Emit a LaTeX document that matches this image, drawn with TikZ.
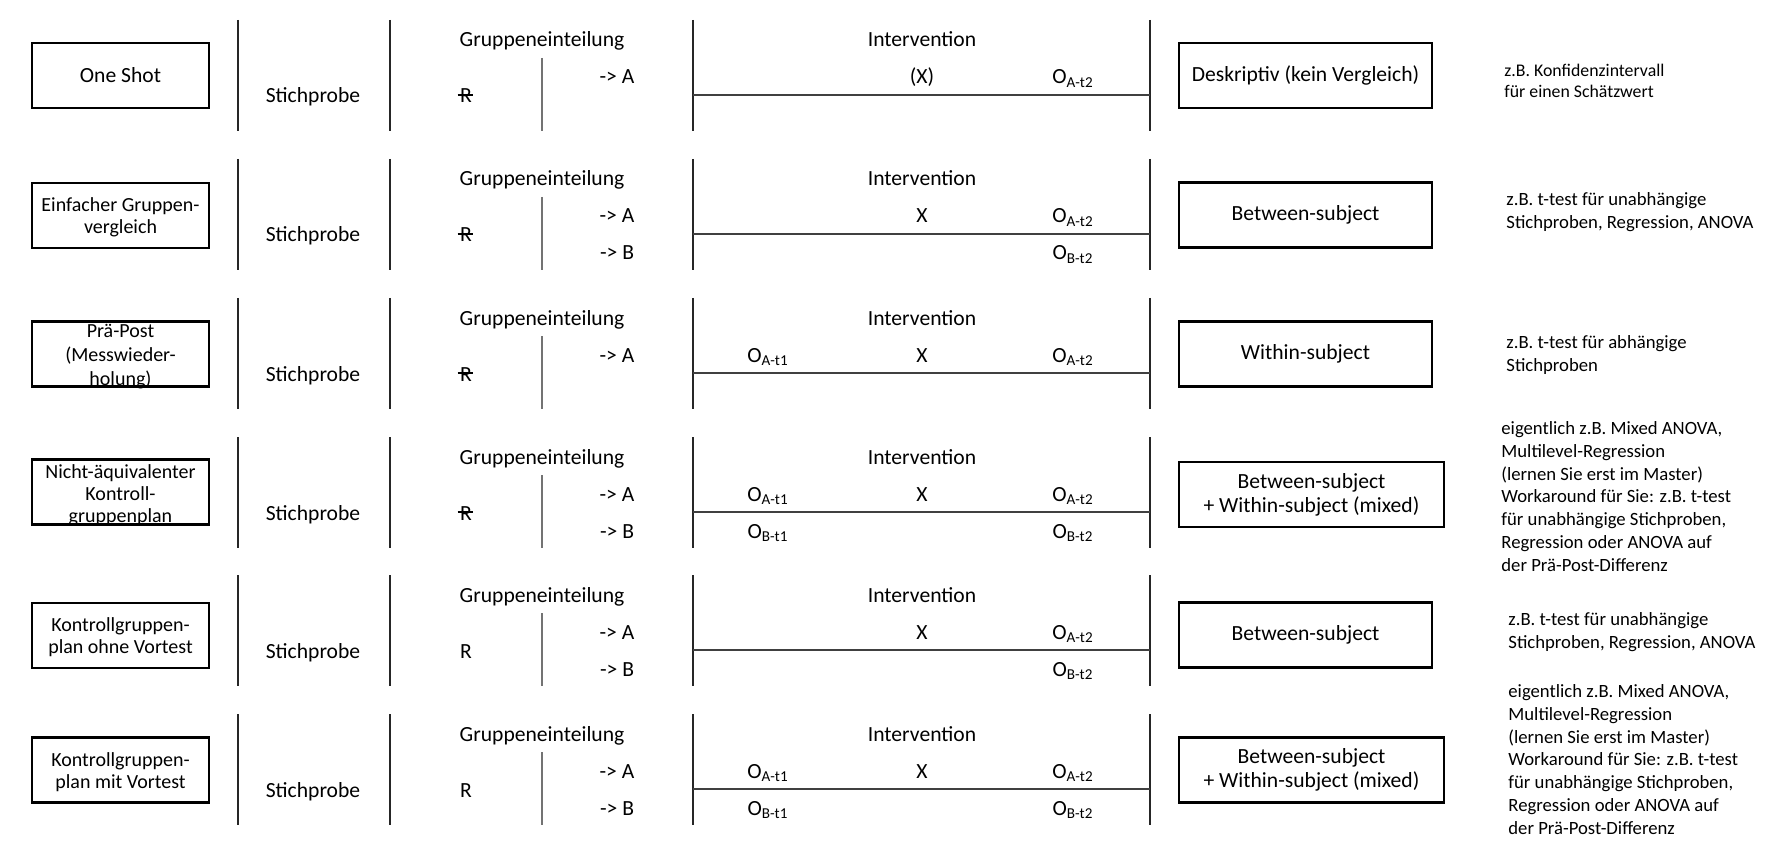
\documentclass[tikz,border=0pt]{standalone}
\usepackage{fontspec}
\setmainfont{Carlito}
\begin{document}
\begin{tikzpicture}[x=0.5pt,y=-0.5pt,
  rule/.style={line width=1pt, draw=black!85},
  grayrule/.style={line width=1pt, draw=black!55},
  hrule/.style={line width=1.1pt, draw=black!75},
  lbox/.style={draw, line width=1.2pt, minimum width=88.5pt, minimum height=32.5pt, inner sep=0pt},
  rbox/.style={draw, line width=1.2pt, minimum width=126.5pt, minimum height=32.5pt, inner sep=0pt, font=\fontsize{10.8}{12}\selectfont, align=center},
  rboxw/.style={rbox, minimum width=132.5pt},
  mtext/.style={font=\fontsize{10.8}{13}\selectfont, inner sep=0pt, anchor=base},
  ltext/.style={font=\fontsize{10}{11}\selectfont, align=center, inner sep=0pt},
  ntext/.style={font=\fontsize{9.35}{11.4}\selectfont, align=left, inner sep=0pt, anchor=west},
  stext/.style={font=\fontsize{8.9}{10.8}\selectfont, align=left, inner sep=0pt, anchor=west},
  strike/.style={line width=0.8pt, draw=black}
]
\useasboundingbox (0,0) rectangle (1780,844);

% common parts of every row
\foreach \i/\T in {1/20,2/159,3/298,4/437,5/575,6/714}{
  \draw[rule] (238,\T) -- (238,\T+111);
  \draw[rule] (390,\T) -- (390,\T+111);
  \draw[grayrule] (542,\T+38) -- (542,\T+111);
  \draw[rule] (693,\T) -- (693,\T+111);
  \draw[rule] (1150,\T) -- (1150,\T+111);
  \draw[hrule] (693,\T+75) -- (1150,\T+75);
  \node[mtext] (st\i) at (313,\T+83) {Stichprobe};
  \node[mtext] (ge\i) at (542,\T+27) {Gruppeneinteilung};
  \node[mtext] (iv\i) at (922,\T+27) {Intervention};
  \node[mtext] (ga\i) at (617,\T+64) {-> A};
  \node[mtext] (r\i) at (466,\T+83) {R};
}
% struck-through R in rows 1-4
\foreach \i in {1,2,3,4}{
  \draw[strike] ([xshift=-1pt,yshift=0.6pt]r\i.west) -- ([xshift=0.3pt,yshift=0.6pt]r\i.east);
}
% B groups
\foreach \i/\T in {2/159,4/437,5/575,6/714}{
  \node[mtext] (gb\i) at (617,\T+101) {-> B};
}

% ---------- Row 1 ----------
\node[lbox, font=\fontsize{10.8}{13}\selectfont] (l1) at (120.5,75.5) {One Shot};
\node[mtext] (x1) at (922,84) {(X)};
\node[mtext] (oa2r1) at (1073,84) {O\textsubscript{A-t2}};
\node[rbox] (e1) at (1305.5,75.5) {Deskriptiv (kein Vergleich)};
\node[stext] (n1) at (1504,81) {z.B. Konfidenzintervall\\für einen Schätzwert};

% ---------- Row 2 ----------
\node[lbox] (l2) at (120.5,215.5) {};
\node[ltext] (lt2) at (120.5,217) {Einfacher Gruppen-\\vergleich};
\node[mtext] (x2) at (922,223) {X};
\node[mtext] (oa2r2) at (1073,223) {O\textsubscript{A-t2}};
\node[mtext] (ob2r2) at (1073,260) {O\textsubscript{B-t2}};
\node[rbox] (e2) at (1305.5,215) {Between-subject};
\node[ntext] (n2) at (1506,212) {z.B. t-test für unabhängige\\Stichproben, Regression, ANOVA};

% ---------- Row 3 ----------
\node[lbox] (l3) at (120.5,354) {};
\node[ltext, font=\fontsize{10}{12}\selectfont] (lt3) at (120.5,357) {Prä-Post\\(Messwieder-\\holung)};
\node[mtext] (oa1r3) at (768,362) {O\textsubscript{A-t1}};
\node[mtext] (x3) at (922,362) {X};
\node[mtext] (oa2r3) at (1073,362) {O\textsubscript{A-t2}};
\node[rbox] (e3) at (1305.5,354) {Within-subject};
\node[ntext] (n3) at (1506,355) {z.B. t-test für abhängige\\Stichproben};

% ---------- Row 4 ----------
\node[lbox] (l4) at (120.5,492) {};
\node[ltext] (lt4) at (120.5,495) {Nicht-äquivalenter\\Kontroll-\\gruppenplan};
\node[mtext] (oa1r4) at (768,501) {O\textsubscript{A-t1}};
\node[mtext] (x4) at (922,501) {X};
\node[mtext] (oa2r4) at (1073,501) {O\textsubscript{A-t2}};
\node[mtext] (ob1r4) at (768,538) {O\textsubscript{B-t1}};
\node[mtext] (ob2r4) at (1073,538) {O\textsubscript{B-t2}};
\node[rboxw] (e4) at (1311.5,494.5) {Between-subject\\+ Within-subject (mixed)};
\node[ntext] (n4) at (1501,496.5) {eigentlich z.B. Mixed ANOVA,\\Multilevel-Regression\\(lernen Sie erst im Master)\\Workaround für Sie: z.B. t-test\\für unabhängige Stichproben,\\Regression oder ANOVA auf\\der Prä-Post-Differenz};

% ---------- Row 5 ----------
\node[lbox] (l5) at (120.5,635.5) {};
\node[ltext] (lt5) at (120.5,637) {Kontrollgruppen-\\plan ohne Vortest};
\node[mtext] (x5) at (922,639) {X};
\node[mtext] (oa2r5) at (1073,639) {O\textsubscript{A-t2}};
\node[mtext] (ob2r5) at (1073,676) {O\textsubscript{B-t2}};
\node[rbox] (e5) at (1305.5,635) {Between-subject};
\node[ntext] (n5) at (1508,632) {z.B. t-test für unabhängige\\Stichproben, Regression, ANOVA};

% ---------- Row 6 ----------
\node[lbox] (l6) at (120.5,770) {};
\node[ltext] (lt6) at (120.5,772) {Kontrollgruppen-\\plan mit Vortest};
\node[mtext] (oa1r6) at (768,778) {O\textsubscript{A-t1}};
\node[mtext] (x6) at (922,778) {X};
\node[mtext] (oa2r6) at (1073,778) {O\textsubscript{A-t2}};
\node[mtext] (ob1r6) at (768,815) {O\textsubscript{B-t1}};
\node[mtext] (ob2r6) at (1073,815) {O\textsubscript{B-t2}};
\node[rboxw] (e6) at (1311.5,770) {Between-subject\\+ Within-subject (mixed)};
\node[ntext] (n6) at (1508,759.5) {eigentlich z.B. Mixed ANOVA,\\Multilevel-Regression\\(lernen Sie erst im Master)\\Workaround für Sie: z.B. t-test\\für unabhängige Stichproben,\\Regression oder ANOVA auf\\der Prä-Post-Differenz};
\end{tikzpicture}
\end{document}
